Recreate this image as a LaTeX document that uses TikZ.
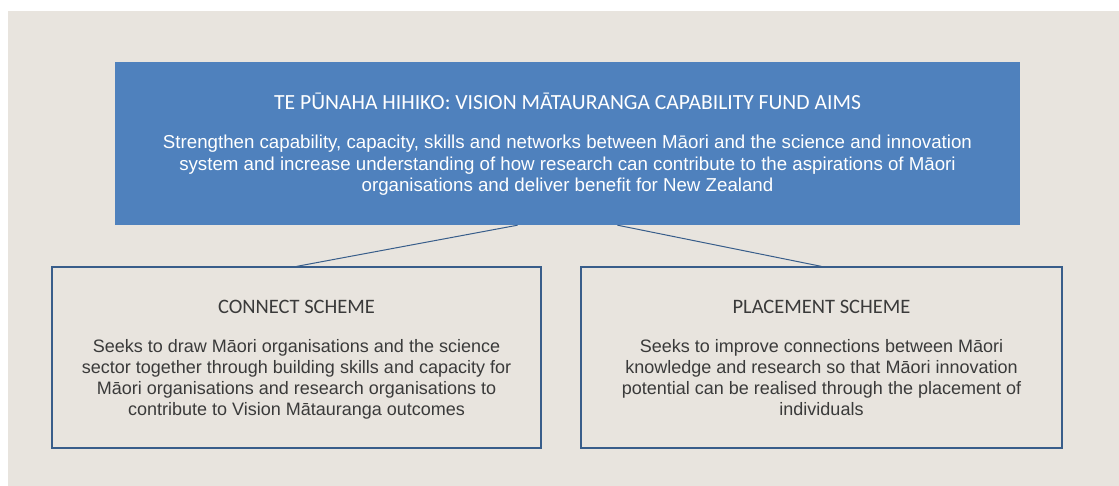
\documentclass[tikz,border=0pt]{standalone}
\usepackage{fontspec}
\setmainfont{Liberation Sans}
\newfontfamily\calfont{Carlito}
\definecolor{bgc}{HTML}{E8E4DE}
\definecolor{topblue}{HTML}{4F81BD}
\definecolor{edgeblue}{HTML}{385D8A}
\definecolor{txtgray}{HTML}{3A3A3A}
\tikzset{
  topbox/.style={fill=topblue, draw=none, minimum width=905pt, minimum height=163pt, inner sep=0pt},
  schemebox/.style={draw=edgeblue, line width=1.2pt, minimum height=181pt, inner sep=0pt},
  headtext/.style={inner sep=0pt, anchor=base},
  bodytext/.style={align=center, inner sep=0pt, anchor=base},
  link/.style={draw=edgeblue, line width=1pt}
}
\begin{document}
\begin{tikzpicture}[x=1pt,y=-1pt]
\useasboundingbox (0,0) rectangle (1119,486);
\fill[white] (0,0) rectangle (1119,486);
\fill[bgc] (8,11) rectangle (1119,486);
\node[topbox] (aims) at (567.5,143.5) {};
\node[schemebox, minimum width=489pt] (connect) at (296.5,357.5) {};
\node[schemebox, minimum width=481pt] (placement) at (821.5,357.5) {};
\coordinate (aimsL) at ([xshift=-50pt]aims.south);
\coordinate (aimsR) at ([xshift=50pt]aims.south);
\draw[link] (aimsL) -- (connect.north);
\draw[link] (aimsR) -- (placement.north);
\node[headtext, text=white, font=\calfont\fontsize{21.6}{26}\selectfont] (aimstitle) at (567.5,110) {TE PŪNAHA HIHIKO: VISION MĀTAURANGA CAPABILITY FUND AIMS};
\node[bodytext, text=white, font=\fontsize{18.7}{21.5}\selectfont] (aimsbody) at (567.5,192) {Strengthen capability, capacity, skills and networks between Māori and the science and innovation\\system and increase understanding of how research can contribute to the aspirations of Māori\\organisations and deliver benefit for New Zealand};
\node[headtext, text=txtgray, font=\calfont\fontsize{20.5}{24}\selectfont] (conntitle) at (296.5,313) {CONNECT SCHEME};
\node[bodytext, text=txtgray, font=\fontsize{18}{21}\selectfont] (connbody) at (296.5,415) {Seeks to draw Māori organisations and the science\\sector together through building skills and capacity for\\Māori organisations and research organisations to\\contribute to Vision Mātauranga outcomes};
\node[headtext, text=txtgray, font=\calfont\fontsize{20.5}{24}\selectfont] (placetitle) at (821.5,313) {PLACEMENT SCHEME};
\node[bodytext, text=txtgray, font=\fontsize{18}{21}\selectfont] (placebody) at (821.5,415) {Seeks to improve connections between Māori\\knowledge and research so that Māori innovation\\potential can be realised through the placement of\\individuals};
\end{tikzpicture}
\end{document}
